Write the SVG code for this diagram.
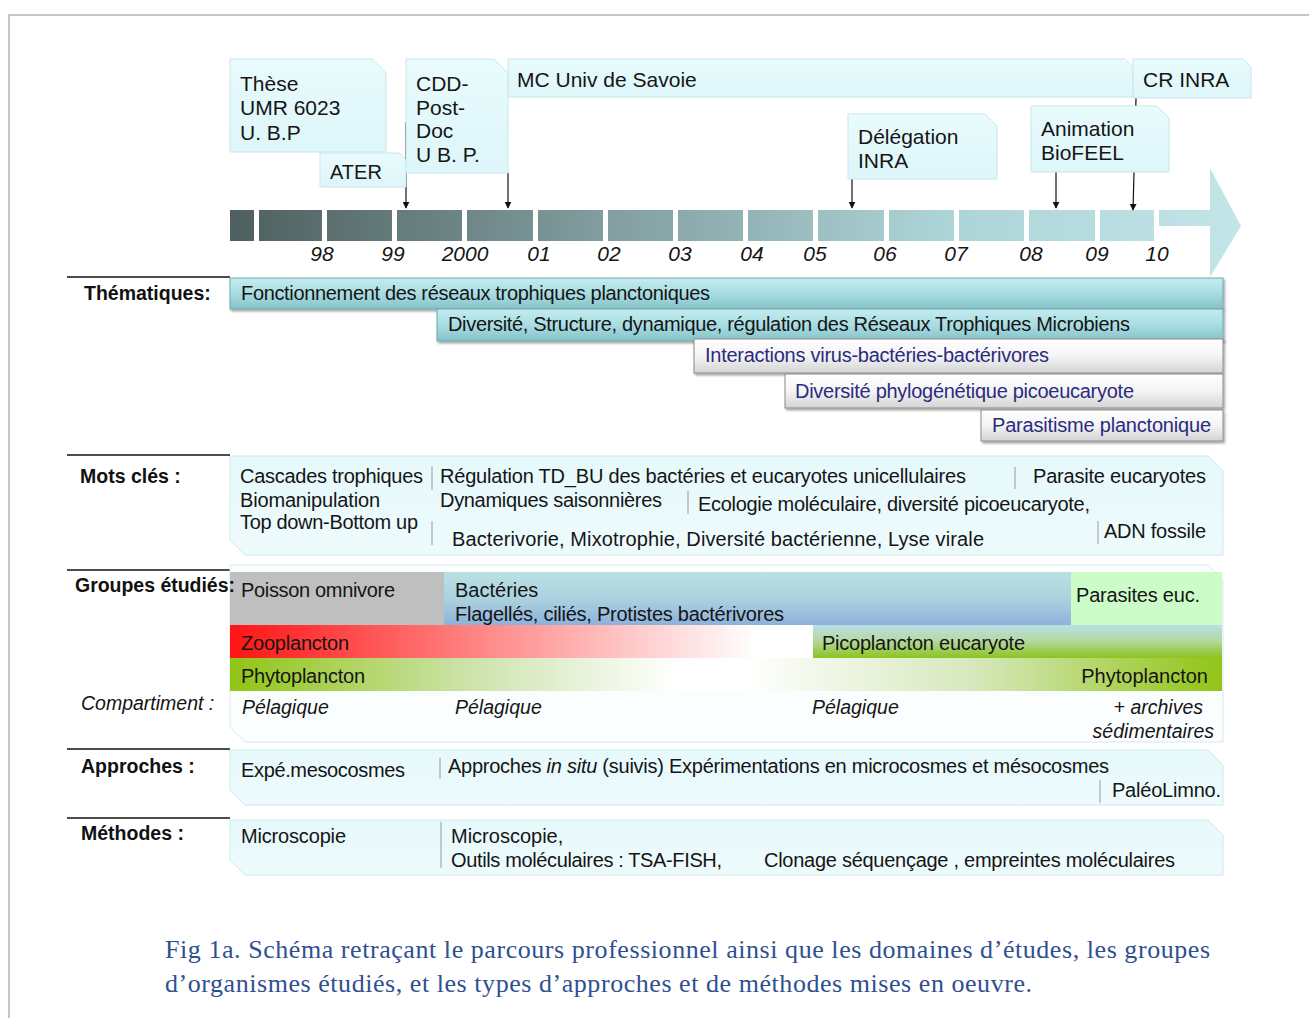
<svg xmlns="http://www.w3.org/2000/svg" width="1309" height="1018" viewBox="0 0 1309 1018">
<defs>
<style>
.t{font-family:"Liberation Sans",Arial,sans-serif;font-size:20px;fill:#151515}
.c{font-family:"Liberation Sans",Arial,sans-serif;font-size:21px;fill:#151515}
.b{font-family:"Liberation Sans",Arial,sans-serif;font-size:19.5px;font-weight:bold;fill:#111}
.i{font-family:"Liberation Sans",Arial,sans-serif;font-size:19.5px;font-style:italic;fill:#151515}
.n{font-family:"Liberation Sans",Arial,sans-serif;font-size:20px;fill:#2b2b80}
.yr{font-family:"Liberation Sans",Arial,sans-serif;font-size:21px;font-style:italic;fill:#151515;text-anchor:middle}
.call{fill:url(#gCall);stroke:#c9e6eb;stroke-width:1}
.row{fill:url(#gRow);stroke:#cfe9ee;stroke-width:1}
.tealbar{fill:url(#gTeal);stroke:#6fa7ad;stroke-width:1;filter:url(#sh)}
.whitebar{fill:url(#gWhite);stroke:#8c8c8c;stroke-width:1;filter:url(#sh)}
.hl{stroke:#111;stroke-width:1.5}
.sep{stroke:#9a9a9a;stroke-width:1}
.conn{stroke:#111;stroke-width:1.2;fill:none;marker-end:url(#ah)}
.cap{font-family:"Liberation Serif","Times New Roman",serif;font-size:26px;fill:#2f5090}
</style>
<marker id="ah" viewBox="0 0 10 10" refX="9" refY="5" markerWidth="7" markerHeight="7" orient="auto" markerUnits="userSpaceOnUse"><path d="M0,0 L10,5 L0,10 z" fill="#111"/></marker>
<linearGradient id="gTL" gradientUnits="userSpaceOnUse" x1="230" y1="0" x2="1241" y2="0"><stop offset="0" stop-color="#4e5f5f"/><stop offset="0.35" stop-color="#7f9a9c"/><stop offset="0.7" stop-color="#acd3d6"/><stop offset="1" stop-color="#c2e5e8"/></linearGradient>
<linearGradient id="gCall" x1="0" y1="0" x2="0" y2="1"><stop offset="0" stop-color="#e9fbfd"/><stop offset="1" stop-color="#ddf6f9"/></linearGradient>
<linearGradient id="gRow" x1="0" y1="0" x2="0" y2="1"><stop offset="0" stop-color="#e6f9fb"/><stop offset="1" stop-color="#eefbfd"/></linearGradient>
<linearGradient id="gTeal" x1="0" y1="0" x2="0" y2="1"><stop offset="0" stop-color="#c4ecf0"/><stop offset="0.5" stop-color="#a8dde2"/><stop offset="1" stop-color="#86c2c8"/></linearGradient>
<linearGradient id="gWhite" x1="0" y1="0" x2="0" y2="1"><stop offset="0" stop-color="#ffffff"/><stop offset="0.5" stop-color="#f4f4f4"/><stop offset="1" stop-color="#d4d4d4"/></linearGradient>
<linearGradient id="gBact" x1="0" y1="0" x2="0" y2="1"><stop offset="0" stop-color="#b9e1e4"/><stop offset="0.5" stop-color="#acd2df"/><stop offset="1" stop-color="#8db1da"/></linearGradient>
<linearGradient id="gZoo" gradientUnits="userSpaceOnUse" x1="230" y1="0" x2="815" y2="0"><stop offset="0" stop-color="#ff1414"/><stop offset="0.45" stop-color="#ff8c8c"/><stop offset="0.9" stop-color="#ffffff"/><stop offset="1" stop-color="#ffffff"/></linearGradient>
<linearGradient id="gPico" x1="0" y1="0" x2="0" y2="1"><stop offset="0" stop-color="#b8e0e6"/><stop offset="0.45" stop-color="#b6d9a6"/><stop offset="1" stop-color="#8cc41e"/></linearGradient>
<linearGradient id="gPhyto" gradientUnits="userSpaceOnUse" x1="230" y1="0" x2="1222" y2="0"><stop offset="0" stop-color="#92c416"/><stop offset="0.25" stop-color="#cfe4b0"/><stop offset="0.45" stop-color="#ffffff"/><stop offset="0.52" stop-color="#ffffff"/><stop offset="0.75" stop-color="#d6e8bc"/><stop offset="1" stop-color="#92c416"/></linearGradient>
<filter id="sh" x="-5%" y="-20%" width="110%" height="160%"><feDropShadow dx="1.5" dy="2" stdDeviation="1" flood-color="#000" flood-opacity="0.35"/></filter>
</defs>
<rect x="0" y="0" width="1309" height="1018" fill="#ffffff"/>
<path d="M9,1018 V15 H1309" fill="none" stroke="#c6c6c6" stroke-width="2"/>

<g id="timeline">
<path fill="url(#gTL)" d="M230,210h24v31h-24z M259,210h63v31h-63z M327,210h65v31h-65z M397,210h65v31h-65z M467,210h66v31h-66z M538,210h65v31h-65z M608,210h65v31h-65z M678,210h65v31h-65z M748,210h65v31h-65z M818,210h66v31h-66z M889,210h65v31h-65z M959,210h65v31h-65z M1029,210h66v31h-66z M1100,210h54v31h-54z M1159,210h51v-42l31,58l-31,51v-51h-51z"/>
<text class="yr" x="322" y="261">98</text>
<text class="yr" x="393" y="261">99</text>
<text class="yr" x="465" y="261">2000</text>
<text class="yr" x="539" y="261">01</text>
<text class="yr" x="609" y="261">02</text>
<text class="yr" x="680" y="261">03</text>
<text class="yr" x="752" y="261">04</text>
<text class="yr" x="815" y="261">05</text>
<text class="yr" x="885" y="261">06</text>
<text class="yr" x="956" y="261">07</text>
<text class="yr" x="1031" y="261">08</text>
<text class="yr" x="1097" y="261">09</text>
<text class="yr" x="1157" y="261">10</text>
</g>

<g id="connectors">
<line class="conn" x1="406" y1="122" x2="406" y2="208"/>
<line class="conn" x1="508" y1="173" x2="508" y2="208"/>
<line class="conn" x1="852" y1="179" x2="852" y2="208"/>
<line class="conn" x1="1056" y1="172" x2="1056" y2="208"/>
<line class="conn" x1="1136" y1="98" x2="1133" y2="210"/>
</g>

<g id="these">
<path class="call" d="M230,59H372L386,73V152H230Z"/>
<text class="c" x="240" y="91">Thèse</text>
<text class="c" x="240" y="115">UMR 6023</text>
<text class="c" x="240" y="140">U. B.P</text>
</g>
<g id="ater">
<path class="call" d="M320,153H399L406,160V187H320Z"/>
<text class="t" font-size="16" x="330" y="179">ATER</text>
</g>
<g id="cdd">
<path class="call" d="M406,59H494L508,73V173H406Z"/>
<text class="c" x="416" y="91">CDD-</text>
<text class="c" x="416" y="115">Post-</text>
<text class="c" x="416" y="138">Doc</text>
<text class="c" x="416" y="162">U B. P.</text>
</g>
<g id="mc">
<path class="call" d="M508,59H1125L1133,67V97H508Z"/>
<text class="c" x="517" y="87">MC Univ de Savoie</text>
</g>
<g id="cr">
<path class="call" d="M1133,59H1243L1251,67V98H1133Z"/>
<text class="c" x="1143" y="87">CR INRA</text>
</g>
<g id="delegation">
<path class="call" d="M848,114H985L997,126V179H848Z"/>
<text class="c" x="858" y="144">Délégation</text>
<text class="c" x="858" y="168">INRA</text>
</g>
<g id="animation">
<path class="call" d="M1031,106H1157L1169,118V172H1031Z"/>
<text class="c" x="1041" y="136">Animation</text>
<text class="c" x="1041" y="160">BioFEEL</text>
</g>

<g id="thematiques">
<line class="hl" x1="67" y1="277" x2="230" y2="277"/>
<text class="b" x="84" y="300">Thématiques:</text>
<rect class="tealbar" x="230" y="278" width="993" height="31"/>
<text class="t" x="241" y="300" textLength="469">Fonctionnement des réseaux trophiques planctoniques</text>
<rect class="tealbar" x="437" y="309" width="786" height="32"/>
<text class="t" x="448" y="331" textLength="682">Diversité, Structure, dynamique, régulation des Réseaux Trophiques Microbiens</text>
<rect class="whitebar" x="694" y="339" width="529" height="34"/>
<text class="n" x="705" y="362" textLength="344">Interactions virus-bactéries-bactérivores</text>
<rect class="whitebar" x="785" y="374" width="438" height="34"/>
<text class="n" x="795" y="398" textLength="339">Diversité phylogénétique picoeucaryote</text>
<rect class="whitebar" x="981" y="410" width="242" height="31"/>
<text class="n" x="992" y="432" textLength="219">Parasitisme planctonique</text>
</g>

<g id="motscles">
<line class="hl" x1="67" y1="455" x2="230" y2="455"/>
<text class="b" x="80" y="483">Mots clés :</text>
<path class="row" d="M230,456H1208L1223,471V555H245L230,540Z"/>
<text class="t" x="240" y="483" textLength="183">Cascades trophiques</text>
<text class="t" x="240" y="507" textLength="140">Biomanipulation</text>
<text class="t" x="240" y="529" textLength="178">Top down-Bottom up</text>
<line class="sep" x1="432" y1="466" x2="432" y2="490"/>
<line class="sep" x1="432" y1="521" x2="432" y2="545"/>
<text class="t" x="440" y="483" textLength="526">Régulation TD_BU  des bactéries et eucaryotes unicellulaires</text>
<text class="t" x="440" y="507" textLength="222">Dynamiques saisonnières</text>
<line class="sep" x1="688" y1="491" x2="688" y2="514"/>
<text class="t" x="698" y="511" textLength="392">Ecologie moléculaire, diversité picoeucaryote,</text>
<text class="t" x="452" y="546" textLength="532">Bacterivorie,  Mixotrophie,  Diversité bactérienne,  Lyse virale</text>
<line class="sep" x1="1015" y1="467" x2="1015" y2="489"/>
<text class="t" x="1033" y="483" textLength="173">Parasite eucaryotes</text>
<line class="sep" x1="1098" y1="521" x2="1098" y2="544"/>
<text class="t" x="1104" y="538" textLength="102">ADN fossile</text>
</g>

<g id="groupes">
<line class="hl" x1="67" y1="570" x2="230" y2="570"/>
<path d="M230,565H1208L1223,580V742H245L230,727Z" fill="#fbfefe" stroke="#d3ebef" stroke-width="1"/>
<rect x="230" y="572" width="214" height="53" fill="#bfbfbf"/>
<text class="t" x="241" y="597" textLength="154">Poisson omnivore</text>
<rect x="444" y="572" width="627" height="53" fill="url(#gBact)"/>
<text class="t" x="455" y="597">Bactéries</text>
<text class="t" x="455" y="621" textLength="329">Flagellés, ciliés, Protistes bactérivores</text>
<rect x="1071" y="572" width="151" height="53" fill="#ccfdc9"/>
<text class="t" x="1076" y="602" textLength="124">Parasites euc.</text>
<rect x="230" y="625" width="585" height="33" fill="url(#gZoo)"/>
<text class="t" x="241" y="650" textLength="108">Zooplancton</text>
<rect x="813" y="625" width="409" height="33" fill="url(#gPico)"/>
<text class="t" x="822" y="650" textLength="203">Picoplancton eucaryote</text>
<rect x="230" y="658" width="992" height="33" fill="url(#gPhyto)"/>
<text class="t" x="241" y="683" textLength="124">Phytoplancton</text>
<text class="t" x="1208" y="683" text-anchor="end">Phytoplancton</text>
<text class="b" x="75" y="592" textLength="160">Groupes étudiés:</text>
<text class="i" x="81" y="710">Compartiment :</text>
<text class="i" x="242" y="714">Pélagique</text>
<text class="i" x="455" y="714">Pélagique</text>
<text class="i" x="812" y="714">Pélagique</text>
<text class="i" x="1203" y="714" text-anchor="end">+ archives</text>
<text class="i" x="1214" y="738" text-anchor="end">sédimentaires</text>
</g>

<g id="approches">
<line class="hl" x1="67" y1="749" x2="230" y2="749"/>
<text class="b" x="81" y="773">Approches :</text>
<path class="row" d="M230,750H1208L1223,765V805H245L230,790Z"/>
<text class="t" x="241" y="777" textLength="164">Expé.mesocosmes</text>
<line class="sep" x1="440" y1="758" x2="440" y2="779"/>
<text class="t" x="448" y="773" textLength="661">Approches <tspan font-style="italic">in situ</tspan> (suivis)  Expérimentations en microcosmes et mésocosmes</text>
<line class="sep" x1="1100" y1="780" x2="1100" y2="803"/>
<text class="t" x="1112" y="797" textLength="109">PaléoLimno.</text>
</g>

<g id="methodes">
<line class="hl" x1="67" y1="818" x2="230" y2="818"/>
<text class="b" x="81" y="840">Méthodes :</text>
<path class="row" d="M230,820H1208L1223,835V875H245L230,860Z"/>
<text class="t" x="241" y="843" textLength="105">Microscopie</text>
<line class="sep" x1="441" y1="822" x2="441" y2="868"/>
<text class="t" x="451" y="843">Microscopie,</text>
<text class="t" x="451" y="867" textLength="271">Outils moléculaires : TSA-FISH,</text>
<text class="t" x="764" y="867" textLength="411">Clonage séquençage , empreintes moléculaires</text>
</g>

<g id="caption">
<text class="cap" x="165" y="958" textLength="1045">Fig 1a. Schéma retraçant le parcours professionnel ainsi que les domaines d’études, les groupes</text>
<text class="cap" x="165" y="992" textLength="867">d’organismes étudiés, et les types d’approches et de méthodes mises en oeuvre.</text>
</g>
</svg>
